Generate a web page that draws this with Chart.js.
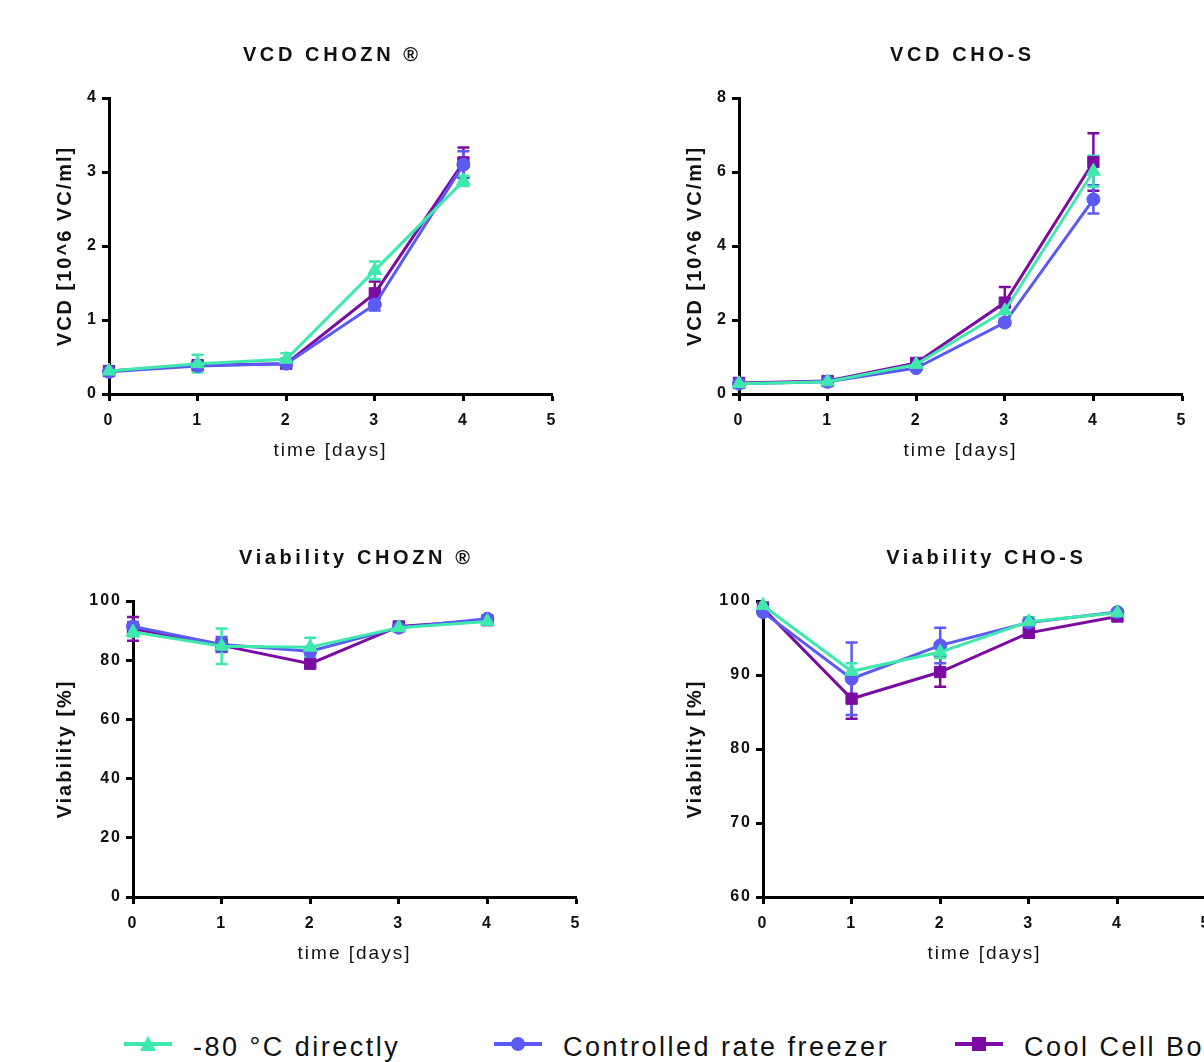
<!DOCTYPE html>
<html>
<head>
<meta charset="utf-8">
<script src="https://cdn.jsdelivr.net/npm/chart.js@4.4.1/dist/chart.umd.min.js"></script>
<style>
  html, body { margin: 0; padding: 0; background: #fff; }
  body { position: relative; width: 1204px; height: 1062px; overflow: hidden; }
  canvas { position: absolute; }
  #legend { position: absolute; left: 0; top: 1027px; width: 1300px; height: 40px;
    font-family: "Liberation Sans", Arial, sans-serif; font-size: 27px; letter-spacing: 2.5px; color: #111; }
  .item { position: absolute; top: 0; height: 40px; display: flex; align-items: center; white-space: nowrap; }
  .item svg { margin-right: 19px; }
</style>
</head>
<body>
<canvas id="c-vcd-chozn" width="540" height="460" style="left:40px;top:20px"></canvas>
<canvas id="c-vcd-chos" width="540" height="460" style="left:670px;top:20px"></canvas>
<canvas id="c-via-chozn" width="564" height="460" style="left:40px;top:523px"></canvas>
<canvas id="c-via-chos" width="564" height="460" style="left:670px;top:523px"></canvas>
<div id="legend"></div>

<script>
// days and series
const DAYS = [0, 1, 2, 3, 4];
const SERIES_NAMES = ['-80 °C directly', 'Controlled rate freezer', 'Cool Cell Box'];
const SERIES_COLORS = ['#3fe9ad', '#5b5bf4', '#7a0ca3'];
const POINT_STYLES = ['triangle', 'circle', 'rect'];
const POINT_RADII = [8, 6.5, 8];

// VCD CHOZN (10^6 VC/ml)
const vcdChoznDirect = [0.31, 0.41, 0.47, 1.67, 2.88];
const vcdChoznDirectErr = [0.03, 0.12, 0.08, 0.12, 0.07];
const vcdChoznCrf = [0.30, 0.38, 0.41, 1.21, 3.10];
const vcdChoznCrfErr = [0.02, 0.03, 0.03, 0.08, 0.18];
const vcdChoznCcb = [0.31, 0.39, 0.41, 1.36, 3.13];
const vcdChoznCcbErr = [0.03, 0.04, 0.03, 0.16, 0.20];

// VCD CHO-S
const vcdChosDirect = [0.28, 0.33, 0.80, 2.25, 6.02];
const vcdChosDirectErr = [0.03, 0.03, 0.05, 0.20, 0.42];
const vcdChosCrf = [0.28, 0.33, 0.70, 1.93, 5.26];
const vcdChosCrfErr = [0.02, 0.03, 0.04, 0.08, 0.38];
const vcdChosCcb = [0.30, 0.35, 0.84, 2.47, 6.27];
const vcdChosCcbErr = [0.03, 0.03, 0.06, 0.42, 0.78];

// Viability CHOZN (%)
const viaChoznDirect = [89.5, 84.7, 84.4, 91.0, 93.1];
const viaChoznDirectErr = [1.5, 6.0, 3.2, 0.8, 0.6];
const viaChoznCrf = [91.4, 85.3, 83.0, 91.0, 94.0];
const viaChoznCrfErr = [1.5, 2.5, 1.5, 0.8, 0.5];
const viaChoznCcb = [90.6, 85.0, 78.8, 91.4, 93.5];
const viaChoznCcbErr = [4.0, 2.0, 1.0, 1.0, 0.6];

// Viability CHO-S (%)
const viaChosDirect = [99.4, 90.5, 93.1, 97.2, 98.4];
const viaChosDirectErr = [0.3, 1.1, 0.8, 0.6, 0.3];
const viaChosCrf = [98.5, 89.5, 94.0, 97.1, 98.5];
const viaChosCrfErr = [0.4, 4.9, 2.4, 0.5, 0.3];
const viaChosCcb = [99.0, 86.8, 90.4, 95.7, 97.9];
const viaChosCcbErr = [0.8, 2.7, 2.0, 0.4, 0.4];

Chart.defaults.font.family = "'Liberation Sans', Arial, sans-serif";
Chart.defaults.color = '#111';

// letter spacing for all canvas text + spaced panel title
const spacedText = {
  id: 'spacedText',
  beforeLayout(chart) { chart.ctx.letterSpacing = '2px'; },
  beforeDraw(chart) { chart.ctx.letterSpacing = '2px'; },
  afterDraw(chart, args, opts) {
    const ctx = chart.ctx;
    const a = chart.chartArea;
    ctx.save();
    ctx.letterSpacing = opts.spacing + 'px';
    ctx.font = "bold 20px 'Liberation Sans', Arial, sans-serif";
    ctx.fillStyle = '#111';
    ctx.textAlign = 'center';
    ctx.textBaseline = 'middle';
    ctx.fillText(opts.text, (a.left + a.right) / 2 + opts.spacing / 2, a.top - opts.offset);
    ctx.restore();
  }
};

// mean ± SD bars, drawn under the lines and markers
const errorBars = {
  id: 'errorBars',
  beforeDatasetsDraw(chart) {
    const { ctx, scales: { x, y } } = chart;
    ctx.save();
    ctx.lineWidth = 2.5;
    for (let i = chart.data.datasets.length - 1; i >= 0; i--) {
      const ds = chart.data.datasets[i];
      ctx.strokeStyle = ds.borderColor;
      ds.data.forEach((p, j) => {
        const e = ds.errors[j];
        const px = x.getPixelForValue(p.x);
        const top = y.getPixelForValue(p.y + e);
        const bot = y.getPixelForValue(p.y - e);
        ctx.beginPath();
        ctx.moveTo(px, top); ctx.lineTo(px, bot);
        ctx.moveTo(px - 6, top); ctx.lineTo(px + 6, top);
        ctx.moveTo(px - 6, bot); ctx.lineTo(px + 6, bot);
        ctx.stroke();
      });
    }
    ctx.restore();
  }
};

function axisStyle() {
  return {
    grid: { display: true, drawOnChartArea: false, drawTicks: true, tickLength: 7, tickWidth: 3, tickColor: '#000' },
    border: { display: true, color: '#000', width: 3 },
  };
}

function makeChart(id, title, yTitle, yMin, yMax, yStep, yWidth, values, errors) {
  const datasets = SERIES_NAMES.map((name, i) => ({
    label: name,
    data: DAYS.map((d, j) => ({ x: d, y: values[i][j] })),
    errors: errors[i],
    borderColor: SERIES_COLORS[i],
    backgroundColor: SERIES_COLORS[i],
    pointStyle: POINT_STYLES[i],
    pointRadius: POINT_RADII[i],
    pointBorderWidth: 1,
    borderWidth: 3,
    tension: 0,
    clip: false,
  }));

  return new Chart(document.getElementById(id), {
    type: 'line',
    data: { datasets },
    plugins: [errorBars, spacedText],
    options: {
      responsive: false,
      animation: false,
      layout: { padding: { top: 78, right: 28, left: 0, bottom: 0 } },
      plugins: {
        legend: { display: false },
        tooltip: { enabled: false },
        spacedText: { text: title, spacing: 3.6, offset: 43 },
      },
      scales: {
        x: {
          type: 'linear', min: 0, max: 5,
          ...axisStyle(),
          ticks: { stepSize: 1, color: '#111', padding: 10, font: { size: 16, weight: 'bold' } },
          title: { display: true, text: 'time [days]', color: '#111', font: { size: 19, weight: 'normal' }, padding: { top: 0, bottom: 18 } },
          afterFit: s => { s.height = 86; },
        },
        y: {
          type: 'linear', min: yMin, max: yMax,
          ...axisStyle(),
          ticks: { stepSize: yStep, color: '#111', padding: 4, font: { size: 16, weight: 'bold' } },
          title: { display: true, text: yTitle, color: '#111', font: { size: 20, weight: 'bold' }, padding: { top: 13, bottom: 0 } },
          afterFit: s => { s.width = yWidth; },
        },
      },
    },
  });
}

makeChart('c-vcd-chozn', 'VCD CHOZN ®', 'VCD [10^6 VC/ml]', 0, 4, 1, 69,
  [vcdChoznDirect, vcdChoznCrf, vcdChoznCcb], [vcdChoznDirectErr, vcdChoznCrfErr, vcdChoznCcbErr]);
makeChart('c-vcd-chos', 'VCD CHO-S', 'VCD [10^6 VC/ml]', 0, 8, 2, 69,
  [vcdChosDirect, vcdChosCrf, vcdChosCcb], [vcdChosDirectErr, vcdChosCrfErr, vcdChosCcbErr]);
makeChart('c-via-chozn', 'Viability CHOZN ®', 'Viability [%]', 0, 100, 20, 93,
  [viaChoznDirect, viaChoznCrf, viaChoznCcb], [viaChoznDirectErr, viaChoznCrfErr, viaChoznCcbErr]);
makeChart('c-via-chos', 'Viability CHO-S', 'Viability [%]', 60, 100, 10, 93,
  [viaChosDirect, viaChosCrf, viaChosCcb], [viaChosDirectErr, viaChosCrfErr, viaChosCcbErr]);

// shared legend at the bottom
const LEGEND_LEFT = [122, 492, 953];
const legend = document.getElementById('legend');
SERIES_NAMES.forEach((name, i) => {
  const c = SERIES_COLORS[i];
  let marker = '';
  if (POINT_STYLES[i] === 'triangle') marker = `<polygon points="26,9 34,24 18,24" fill="${c}"/>`;
  else if (POINT_STYLES[i] === 'circle') marker = `<circle cx="26" cy="17" r="7" fill="${c}"/>`;
  else marker = `<rect x="19" y="10" width="14" height="14" fill="${c}"/>`;
  legend.insertAdjacentHTML('beforeend', `
    <div class="item" style="left:${LEGEND_LEFT[i]}px">
      <svg width="52" height="40"><line x1="2" y1="17" x2="50" y2="17" stroke="${c}" stroke-width="4"/>${marker}</svg>
      <span>${name}</span>
    </div>`);
});
</script>
</body>
</html>
